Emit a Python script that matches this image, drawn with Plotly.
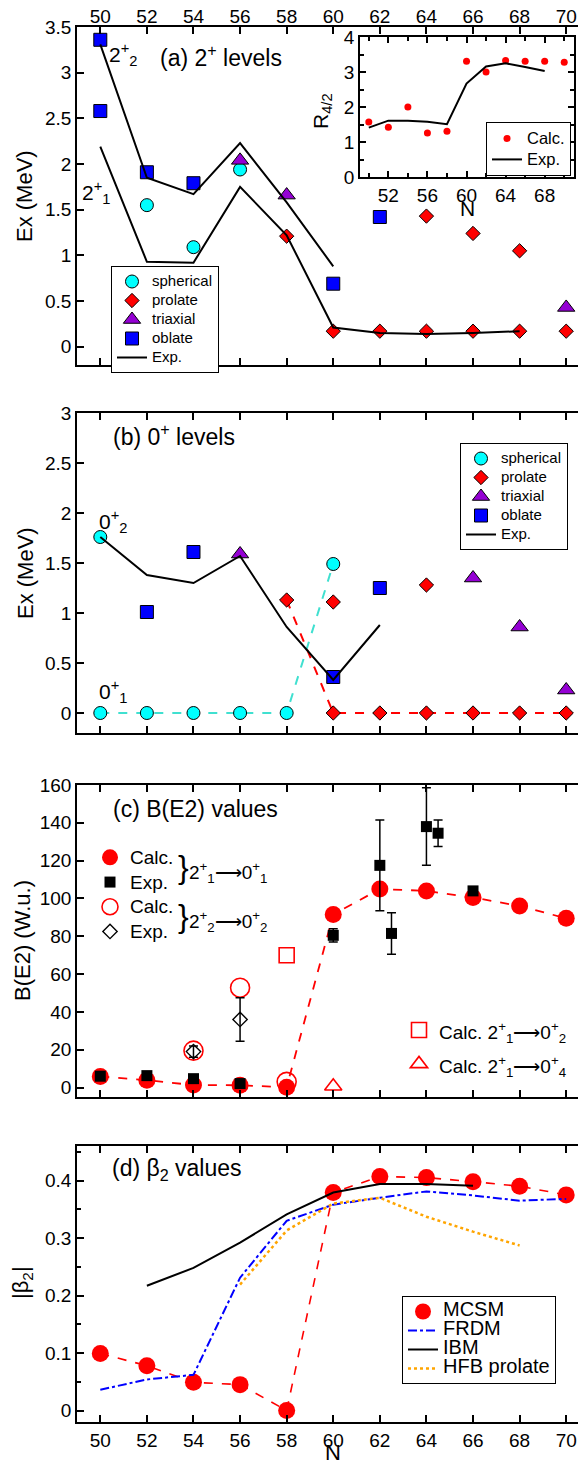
import plotly.graph_objects as go

# ---------------- data ----------------
N_all = [50, 52, 54, 56, 58, 60, 62, 64, 66, 68, 70]

# (a) 2+ levels (MeV)
a_exp21_N = [50, 52, 54, 56, 58, 60, 62, 64, 66, 68]
a_exp21 = [2.19, 0.93, 0.92, 1.75, 1.22, 0.21, 0.15, 0.14, 0.15, 0.17]
a_exp22_N = [50, 52, 54, 56, 58, 60]
a_exp22 = [3.31, 1.85, 1.67, 2.23, 1.58, 0.88]
a_sph_N = [52, 54, 56]
a_sph = [1.55, 1.09, 1.94]
a_pro_N = [58, 60, 62, 64, 64, 66, 66, 68, 68, 70]
a_pro = [1.21, 0.17, 0.17, 0.17, 1.43, 0.17, 1.24, 0.17, 1.05, 0.17]
a_tri_N = [56, 58, 70]
a_tri = [2.04, 1.66, 0.43]
a_obl_N = [50, 50, 52, 54, 60, 62]
a_obl = [3.36, 2.58, 1.91, 1.79, 0.69, 1.42]

# inset R4/2
r42_calc_N = N_all
r42_calc = [1.57, 1.42, 2.0, 1.26, 1.31, 3.31, 3.0, 3.33, 3.31, 3.31, 3.28]
r42_exp_N = [50, 52, 54, 56, 58, 60, 62, 64, 66, 68]
r42_exp = [1.41, 1.61, 1.61, 1.58, 1.51, 2.67, 3.16, 3.25, 3.14, 3.03]

# (b) 0+ levels (MeV)
b_exp02_N = [50, 52, 54, 56, 58, 60, 62]
b_exp02 = [1.76, 1.38, 1.30, 1.57, 0.86, 0.33, 0.88]
b_sph_N = [50, 52, 54, 56, 58, 50, 60]
b_sph = [0, 0, 0, 0, 0, 1.76, 1.49]
b_pro_N = [58, 60, 60, 62, 64, 66, 68, 70, 64]
b_pro = [1.13, 1.11, 0, 0, 0, 0, 0, 0, 1.28]
b_tri_N = [56, 66, 68, 70]
b_tri = [1.59, 1.35, 0.86, 0.23]
b_obl_N = [52, 54, 60, 62]
b_obl = [1.01, 1.61, 0.36, 1.25]
b_sph_path_N = [50, 52, 54, 56, 58, 60]
b_sph_path = [0, 0, 0, 0, 0, 1.49]
b_pro_path_N = [58, 60, 62, 64, 66, 68, 70]
b_pro_path = [1.13, 0, 0, 0, 0, 0, 0]

# (c) B(E2) values (W.u.)
c_calc21 = [5.8, 3.9, 1.3, 1.2, 0.2, 91.5, 105, 104, 100.5, 96, 89.5]
c_exp21_N = [50, 52, 54, 56, 60, 62, 62.5, 64, 64.5, 66]
c_exp21 = [6.0, 6.3, 4.7, 2.1, 80.5, 117.5, 81.5, 138, 134.5, 104]
c_exp21_err = [1.0, 1.0, 1.0, 0.6, 3.5, 24, 11, 20.5, 7, 2]
c_calc22_N = [54, 56, 58]
c_calc22 = [19.5, 52.8, 3.0]
c_exp22_N = [54, 56]
c_exp22 = [19, 36]
c_exp22_err = [3, 11.5]
c_calc2102_N = [58]
c_calc2102 = [70]
c_calc2104_N = [60]
c_calc2104 = [0.7]

# (d) beta2 values
d_mcsm = [0.099, 0.078, 0.049, 0.045, 0.0, 0.379, 0.407, 0.405, 0.398, 0.39, 0.375]
d_frdm = [0.036, 0.054, 0.062, 0.231, 0.33, 0.358, 0.37, 0.381, 0.374, 0.365, 0.368]
d_ibm_N = [52, 54, 56, 58, 60, 62, 64, 66]
d_ibm = [0.217, 0.248, 0.292, 0.341, 0.379, 0.394, 0.394, 0.391]
d_hfb_N = [56, 58, 60, 62, 64, 66, 68]
d_hfb = [0.219, 0.313, 0.36, 0.37, 0.337, 0.311, 0.287]

N_ticks = [50, 52, 54, 56, 58, 60, 62, 64, 66, 68, 70]

# ---------------- styling helpers ----------------
# The page body has an 8px default margin, so the figure is made 8px smaller
# and all positions below are given in page pixels.
OFF = 8
W, H = 586 - OFF, 1463 - OFF
L, R, T, B = 77 - OFF, 0, 27 - OFF, 41
PW, PH = W - L - R, H - T - B
FONT = "Liberation Sans"
CYAN, RED, VIOLET, BLUE = "#00ffff", "#ff0000", "#9400d3", "#0000ff"


def X(p):
    return (p - OFF - L) / PW


def Y(p):
    return (H - B - (p - OFF)) / PH


def sp(txt, size):
    return f'<span style="font-size:{size}px">{txt}</span>'


fig = go.Figure()

OUT = dict(color="black", width=1)


def sc(x, y, xa, ya, **kw):
    fig.add_trace(go.Scatter(x=x, y=y, xaxis=xa, yaxis=ya, **kw))


# ---- panel (a)
sc(a_sph_N, a_sph, "x", "y", mode="markers", name=sp("spherical", 15), legend="legend",
   marker=dict(symbol="circle", size=13, color=CYAN, line=OUT))
sc(a_pro_N, a_pro, "x", "y", mode="markers", name=sp("prolate", 15), legend="legend",
   marker=dict(symbol="diamond", size=11, color=RED, line=OUT))
sc(a_tri_N, a_tri, "x", "y", mode="markers", name=sp("triaxial", 15), legend="legend",
   marker=dict(symbol="triangle-up", size=15, color=VIOLET, line=OUT))
sc(a_obl_N, a_obl, "x", "y", mode="markers", name=sp("oblate", 15), legend="legend",
   marker=dict(symbol="square", size=13, color=BLUE, line=OUT))
sc(a_exp21_N, a_exp21, "x", "y", mode="lines", name=sp("Exp.", 15), legend="legend",
   line=dict(color="black", width=2))
sc(a_exp22_N, a_exp22, "x", "y", mode="lines", showlegend=False,
   line=dict(color="black", width=2))

# ---- inset
sc(r42_calc_N, r42_calc, "x5", "y5", mode="markers", name=sp("Calc.", 16.5), legend="legend2",
   marker=dict(symbol="circle", size=7, color=RED))
sc(r42_exp_N, r42_exp, "x5", "y5", mode="lines", name=sp("Exp.", 16.5), legend="legend2",
   line=dict(color="black", width=2))

# ---- panel (b)
sc(b_sph_path_N, b_sph_path, "x2", "y2", mode="lines", showlegend=False,
   line=dict(color="#40e0d0", width=2, dash="dash"))
sc(b_pro_path_N, b_pro_path, "x2", "y2", mode="lines", showlegend=False,
   line=dict(color=RED, width=2, dash="dash"))
sc(b_sph_N, b_sph, "x2", "y2", mode="markers", name=sp("spherical", 15), legend="legend3",
   marker=dict(symbol="circle", size=13, color=CYAN, line=OUT))
sc(b_pro_N, b_pro, "x2", "y2", mode="markers", name=sp("prolate", 15), legend="legend3",
   marker=dict(symbol="diamond", size=11, color=RED, line=OUT))
sc(b_tri_N, b_tri, "x2", "y2", mode="markers", name=sp("triaxial", 15), legend="legend3",
   marker=dict(symbol="triangle-up", size=15, color=VIOLET, line=OUT))
sc(b_obl_N, b_obl, "x2", "y2", mode="markers", name=sp("oblate", 15), legend="legend3",
   marker=dict(symbol="square", size=13, color=BLUE, line=OUT))
sc(b_exp02_N, b_exp02, "x2", "y2", mode="lines", name=sp("Exp.", 15), legend="legend3",
   line=dict(color="black", width=2))

# ---- panel (c)
sc(N_all, c_calc21, "x3", "y3", mode="lines", showlegend=False,
   line=dict(color=RED, width=1.8, dash="dash"))
sc(N_all, c_calc21, "x3", "y3", mode="markers", name=sp("Calc.", 19), legend="legend4",
   marker=dict(symbol="circle", size=17, color=RED))
sc(c_exp21_N, c_exp21, "x3", "y3", mode="markers", name=sp("Exp.", 19), legend="legend4",
   marker=dict(symbol="square", size=11, color="black"),
   error_y=dict(type="data", array=c_exp21_err, color="black", thickness=1.5, width=4.5))
sc(c_calc22_N, c_calc22, "x3", "y3", mode="markers", name=sp("Calc.", 19), legend="legend4",
   marker=dict(symbol="circle-open", size=19, color=RED, line=dict(color=RED, width=1.6)))
sc(c_exp22_N, c_exp22, "x3", "y3", mode="markers", name=sp("Exp.", 19), legend="legend4",
   marker=dict(symbol="diamond-open", size=11, color="black", line=dict(color="black", width=1.4)),
   error_y=dict(type="data", array=c_exp22_err, color="black", thickness=1.5, width=4.5))
sc(c_calc2102_N, c_calc2102, "x3", "y3", mode="markers", legend="legend5",
   name=sp("Calc. 2<sup>+</sup><sub>1</sub>⟶0<sup>+</sup><sub>2</sub>", 19),
   marker=dict(symbol="square-open", size=15, color=RED, line=dict(color=RED, width=1.6)))
sc(c_calc2104_N, c_calc2104, "x3", "y3", mode="markers", legend="legend5",
   name=sp("Calc. 2<sup>+</sup><sub>1</sub>⟶0<sup>+</sup><sub>4</sub>", 19),
   marker=dict(symbol="triangle-up-open", size=15, color=RED, line=dict(color=RED, width=1.6)))

# ---- panel (d)
sc(N_all, d_mcsm, "x4", "y4", mode="lines", showlegend=False,
   line=dict(color=RED, width=1.6, dash="dash"))
sc(N_all, d_mcsm, "x4", "y4", mode="markers", name=sp("MCSM", 20), legend="legend6",
   marker=dict(symbol="circle", size=17, color=RED))
sc(N_all, d_frdm, "x4", "y4", mode="lines", name=sp("FRDM", 20), legend="legend6",
   line=dict(color=BLUE, width=2, dash="dashdot"))
sc(d_ibm_N, d_ibm, "x4", "y4", mode="lines", name=sp("IBM", 20), legend="legend6",
   line=dict(color="black", width=2))
sc(d_hfb_N, d_hfb, "x4", "y4", mode="lines", name=sp("HFB prolate", 20), legend="legend6",
   line=dict(color="#ffa500", width=2.5, dash="dot"))

# ---------------- axes ----------------
TICKF = dict(family=FONT, size=19, color="black")
base = dict(showline=True, linecolor="black", linewidth=1.5, mirror="ticks", ticks="inside",
            ticklen=7, tickwidth=1.5, tickcolor="black", showgrid=False, zeroline=False,
            tickfont=TICKF, automargin=False)
xbase = dict(base, range=[49, 70.85], tickmode="array", tickvals=N_ticks)

fig.update_layout(
    xaxis=dict(xbase, anchor="y", side="top", showticklabels=True, domain=[0, 1],
               ticklabelstandoff=-5),
    yaxis=dict(base, anchor="x", domain=[Y(365), Y(27)], range=[-0.2, 3.5], dtick=0.5, tick0=0),
    xaxis2=dict(xbase, anchor="y2", showticklabels=False, domain=[0, 1]),
    yaxis2=dict(base, anchor="x2", domain=[Y(733), Y(413)], range=[-0.2, 3.0], dtick=0.5, tick0=0),
    xaxis3=dict(xbase, anchor="y3", showticklabels=False, domain=[0, 1]),
    yaxis3=dict(base, anchor="x3", domain=[Y(1097), Y(785)], range=[-5, 160], dtick=20, tick0=0),
    xaxis4=dict(xbase, anchor="y4", showticklabels=True, domain=[0, 1]),
    yaxis4=dict(base, anchor="x4", domain=[0, Y(1146)], range=[-0.02, 0.46], dtick=0.1, tick0=0,
                minor=dict(dtick=0.05, tick0=0, ticks="inside", ticklen=4, tickwidth=1.5,
                           tickcolor="black")),
    xaxis5=dict(base, anchor="y5", domain=[X(360), X(574)], range=[49.1, 71], tick0=52, dtick=4,
                ticklen=6, minor=dict(dtick=2, tick0=50, ticks="inside", ticklen=4, tickwidth=1.5,
                                      tickcolor="black")),
    yaxis5=dict(base, anchor="x5", domain=[Y(177), Y(37)], range=[0, 4], dtick=1, tick0=0,
                ticklen=6, minor=dict(dtick=0.5, tick0=0, ticks="inside", ticklen=4, tickwidth=1.5,
                                      tickcolor="black")),
)

# ---------------- legends ----------------
def leg(x, y, size, border=True):
    d = dict(x=x, y=y, xref="paper", yref="paper", xanchor="left", yanchor="top",
             font=dict(family=FONT, size=size, color="black"), tracegroupgap=0,
             bgcolor="white" if border else "rgba(0,0,0,0)")
    if border:
        d.update(bordercolor="black", borderwidth=1)
    return d


fig.update_layout(
    legend=leg(X(111), Y(266), 12),
    legend2=leg(X(486), Y(122), 13.8),
    legend3=leg(X(460), Y(443), 12),
    legend4=leg(X(90), Y(840), 16.7, border=False),
    legend5=leg(X(399), Y(1008), 23.8, border=False),
    legend6=leg(X(402), Y(1296), 12.3),
)

# ---------------- annotations ----------------
ann = []


def txt(t, x, y, size, xanchor="left", yanchor="middle", angle=0):
    ann.append(dict(text=t, x=x, y=y, xref="paper", yref="paper", xanchor=xanchor,
                    yanchor=yanchor, showarrow=False, textangle=angle,
                    font=dict(family=FONT, size=size, color="black")))


txt("2<sup>+</sup><sub>2</sub>", X(107), Y(55), 21)
txt("(a) 2<sup>+</sup> levels", X(158), Y(56), 23)
txt("2<sup>+</sup><sub>1</sub>", X(80), Y(192), 21)
txt("(b) 0<sup>+</sup> levels", X(111), Y(435), 23)
txt("0<sup>+</sup><sub>2</sub>", X(97), Y(521), 21)
txt("0<sup>+</sup><sub>1</sub>", X(97), Y(692), 21)
txt("(c) B(E2) values", X(111), Y(809), 23)
txt("}", X(176), Y(867), 32)
txt("2<sup>+</sup><sub>1</sub>⟶0<sup>+</sup><sub>1</sub>", X(187), Y(872), 19)
txt("}", X(176), Y(916), 32)
txt("2<sup>+</sup><sub>2</sub>⟶0<sup>+</sup><sub>2</sub>", X(187), Y(921), 19)
txt("(d) β<sub>2</sub> values", X(110), Y(1169), 23)

txt("Ex (MeV)", X(25), Y(196), 22, xanchor="center", angle=-90)
txt("Ex (MeV)", X(25), Y(573), 22, xanchor="center", angle=-90)
txt("B(E2) (W.u.)", X(23), Y(941), 22, xanchor="center", angle=-90)
txt("|β<sub>2</sub>|", X(22), Y(1283), 22, xanchor="center", angle=-90)
txt("N", X(333), Y(1452), 22, xanchor="center")
txt("N", X(467), Y(209), 21, xanchor="center")
txt("R<sub>4/2</sub>", X(322), Y(111), 21, xanchor="center", angle=-90)

fig.update_layout(
    annotations=ann,
    width=W, height=H,
    margin=dict(l=L, r=R, t=T, b=B, pad=0),
    paper_bgcolor="white", plot_bgcolor="white",
    font=dict(family=FONT, size=15, color="black"),
)

fig.write_html("out.html")
